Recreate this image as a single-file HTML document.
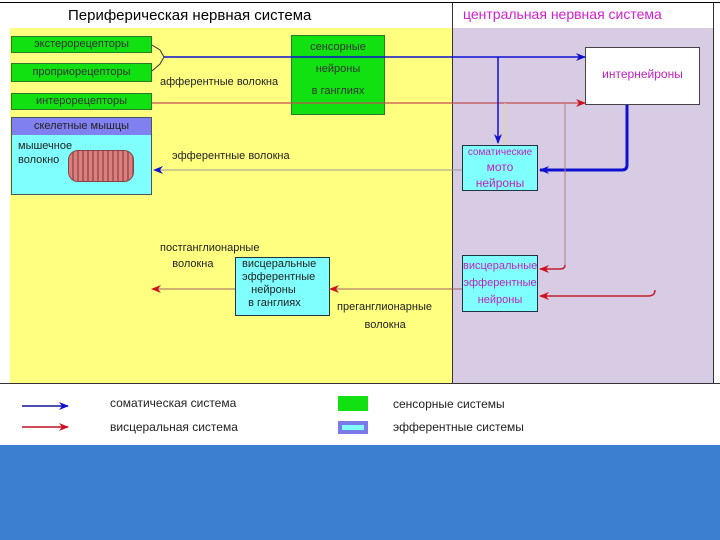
<!DOCTYPE html><html><head><meta charset="utf-8"><style>
body{margin:0;width:720px;height:540px;overflow:hidden;background:#fff;font-family:"Liberation Sans",sans-serif;position:relative}
div{position:absolute;box-sizing:border-box}
.t{font-size:11px;color:#222;white-space:nowrap}
.g{background:#11e011;border:1px solid #2a7a2a;color:#333;font-size:11px;text-align:center}
.c{background:#80ffff;border:1px solid #234;font-size:11px;text-align:center;line-height:13px}
</style></head><body>
<div style="left:0;top:2px;width:720px;height:1px;background:#000"></div>
<div style="left:10px;top:28px;width:442px;height:355px;background:#ffff80"></div>
<div style="left:452px;top:28px;width:261px;height:355px;background:#d8cce4"></div>
<div style="left:452px;top:3px;width:1px;height:380px;background:#333"></div>
<div style="left:713px;top:3px;width:1px;height:380px;background:#333"></div>
<div style="left:0;top:383px;width:720px;height:1px;background:#333"></div>
<div class="t" style="left:68px;top:7px;font-size:15px;color:#000">Периферическая нервная система</div>
<div class="t" style="left:463px;top:6px;font-size:14px;color:#d020d0">центральная нервная система</div>
<div class="g" style="left:11px;top:36px;width:141px;height:17px;line-height:15px">экстерорецепторы</div>
<div class="g" style="left:11px;top:63px;width:141px;height:19px;line-height:17px">проприорецепторы</div>
<div class="g" style="left:11px;top:93px;width:141px;height:17px;line-height:15px">интерорецепторы</div>
<div style="left:11px;top:117px;width:141px;height:78px;background:#80ffff;border:1px solid #456"></div>
<div style="left:12px;top:118px;width:139px;height:17px;background:#8080f0;font-size:11px;text-align:center;line-height:17px;color:#222">скелетные мышцы</div>
<div class="t" style="left:18px;top:139px;line-height:14px">мышечное<br>волокно</div>
<div style="left:68px;top:150px;width:66px;height:32px;border-radius:10px;background:repeating-linear-gradient(90deg,#d88080 0 3px,#b05858 3px 5px);border:1px solid #844"></div>
<div class="g" style="left:291px;top:35px;width:94px;height:80px;line-height:22px;padding-top:0">сенсорные<br>нейроны<br>в ганглиях</div>
<div class="t" style="left:160px;top:76px">афферентные волокна</div>
<div class="t" style="left:172px;top:150px">эфферентные волокна</div>
<div style="left:585px;top:47px;width:115px;height:58px;background:#fff;border:1px solid #444;font-size:12px;color:#c020c0;text-align:center;line-height:52px">интернейроны</div>
<div class="c" style="left:462px;top:145px;width:76px;height:46px;color:#c020c0;line-height:14px;font-size:10px">соматические<br><span style="font-size:12px">мото<br>нейроны</span></div>
<div class="c" style="left:462px;top:255px;width:76px;height:57px;color:#c020c0;line-height:17px;padding-top:2px">висцеральные<br>эфферентные<br>нейроны</div>
<div class="c" style="left:235px;top:257px;width:95px;height:59px;color:#222;text-align:left;padding-left:6px">висцеральные<br>эфферентные<br>&nbsp;&nbsp;&nbsp;нейроны<br>&nbsp;&nbsp;в ганглиях</div>
<div class="t" style="left:160px;top:240px;line-height:16px">постганглионарные<br>&nbsp;&nbsp;&nbsp;&nbsp;волокна</div>
<div class="t" style="left:337px;top:298px;line-height:18px">преганглионарные<br>&nbsp;&nbsp;&nbsp;&nbsp;&nbsp;&nbsp;&nbsp;&nbsp;&nbsp;волокна</div>
<svg width="720" height="540" style="position:absolute;left:0;top:0">
<defs>
<marker id="b" markerWidth="10" markerHeight="8" refX="9" refY="4" orient="auto" markerUnits="userSpaceOnUse"><path d="M0,0L10,4L0,8L3,4z" fill="#1010d0"/></marker>
<marker id="r" markerWidth="10" markerHeight="8" refX="9" refY="4" orient="auto" markerUnits="userSpaceOnUse"><path d="M0,0L10,4L0,8L3,4z" fill="#d01020"/></marker>
</defs>
<path d="M152,45 L160,50 L164,57 L160,64 L152,71" fill="none" stroke="#333"/>
<line x1="164" y1="57" x2="585" y2="57" stroke="#1010d0" stroke-width="1.5" marker-end="url(#b)"/>
<line x1="152" y1="103" x2="585" y2="103" stroke="#c05050" stroke-width="1.2" marker-end="url(#r)"/>
<line x1="498" y1="57" x2="498" y2="143" stroke="#1010d0" stroke-width="1.5" marker-end="url(#b)"/>
<path d="M627,105 L627,165 Q627,170 622,170 L540,170" fill="none" stroke="#1010d0" stroke-width="3" marker-end="url(#b)"/>
<line x1="462" y1="170" x2="154" y2="170" stroke="#999" stroke-width="1" marker-end="url(#b)"/>
<line x1="505" y1="103" x2="505" y2="145" stroke="#d8d890" stroke-width="1"/>
<line x1="565" y1="103" x2="565" y2="265" stroke="#b08080" stroke-width="1"/>
<path d="M565,265 Q565,269 560,269 L540,269" fill="none" stroke="#c02030" stroke-width="1.5" marker-end="url(#r)"/>
<path d="M655,290 Q655,296 648,296 L540,296" fill="none" stroke="#c02030" stroke-width="1.5" marker-end="url(#r)"/>
<line x1="462" y1="289" x2="330" y2="289" stroke="#a06060" stroke-width="1" marker-end="url(#r)"/>
<line x1="235" y1="289" x2="152" y2="289" stroke="#a06060" stroke-width="1" marker-end="url(#r)"/>
<line x1="22" y1="406" x2="68" y2="406" stroke="#1010a0" stroke-width="1.5" marker-end="url(#b)"/>
<line x1="22" y1="427" x2="68" y2="427" stroke="#c01020" stroke-width="1.5" marker-end="url(#r)"/>
</svg>
<div class="t" style="left:110px;top:396px;font-size:12px">соматическая система</div>
<div class="t" style="left:110px;top:420px;font-size:12px">висцеральная система</div>
<div style="left:338px;top:396px;width:30px;height:15px;background:#11e011"></div>
<div style="left:338px;top:421px;width:30px;height:13px;background:#7a7ae8;padding:3px"><div style="left:4px;top:4px;width:22px;height:5px;background:#80ffff"></div></div>
<div class="t" style="left:393px;top:397px;font-size:12px">сенсорные системы</div>
<div class="t" style="left:393px;top:420px;font-size:12px">эфферентные системы</div>
<div style="left:0;top:445px;width:720px;height:95px;background:#3b7fd0"></div>
</body></html>
